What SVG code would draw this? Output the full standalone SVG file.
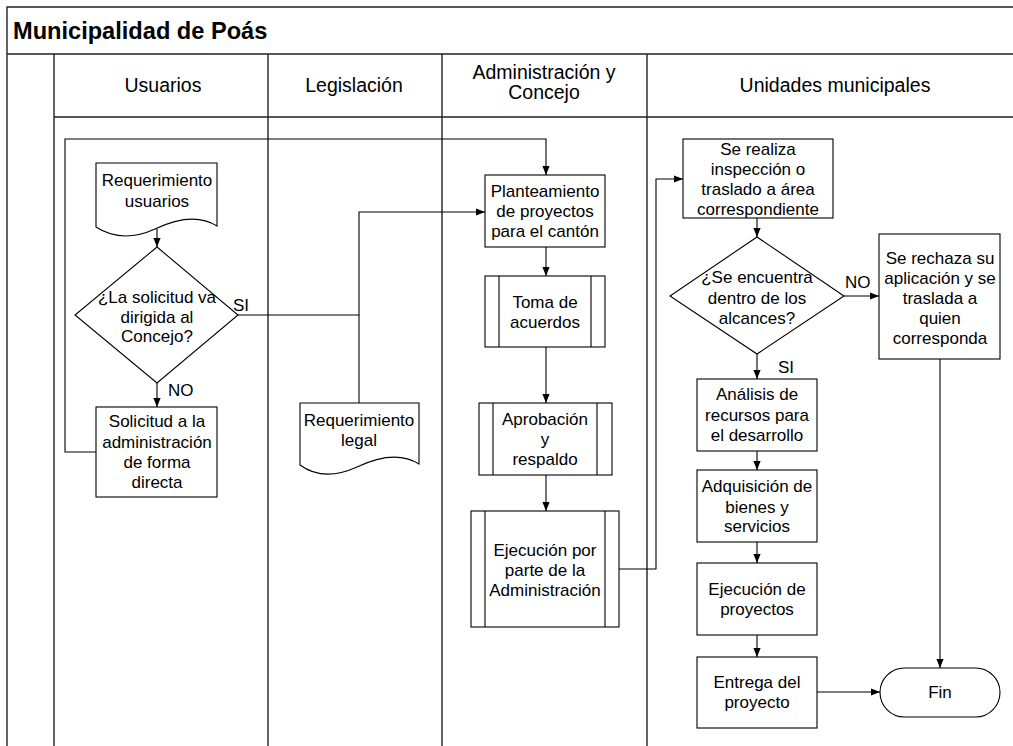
<svg xmlns="http://www.w3.org/2000/svg" width="1013" height="746" viewBox="0 0 1013 746">
<defs>
<style>
.frame{fill:none;stroke:#222;stroke-width:1.4}
.shape{fill:#fff;stroke:#000;stroke-width:1.1}
.inner{fill:none;stroke:#000;stroke-width:1.1}
.conn{fill:none;stroke:#000;stroke-width:1.1}
.t{font-family:"Liberation Sans",Arial,sans-serif;font-size:17px;fill:#000;text-anchor:middle}
.h{font-family:"Liberation Sans",Arial,sans-serif;font-size:19.5px;fill:#000;text-anchor:middle}
.lbl{font-family:"Liberation Sans",Arial,sans-serif;font-size:17px;fill:#000}
.title{font-family:"Liberation Sans",Arial,sans-serif;font-size:23.6px;font-weight:bold;fill:#000}
</style>
<marker id="arr" viewBox="0 0 10 10" refX="10" refY="5" markerWidth="9" markerHeight="9" markerUnits="userSpaceOnUse" orient="auto">
<path d="M0,1 L10,5 L0,9 Z" fill="#000"/>
</marker>
</defs>
<rect width="1013" height="746" fill="#fff"/>
<g id="pool">
<path class="frame" d="M7,746 V7 H1013 M7,54 H1013 M54,54 V746 M54,117 H1013 M268,54 V746 M442,54 V746 M647,54 V746"/>
<text class="title" x="13" y="39">Municipalidad de Poás</text>
<text class="h" x="163" y="92">Usuarios</text>
<text class="h" x="354" y="92">Legislación</text>
<text class="h" x="544" y="79">Administración y</text>
<text class="h" x="544" y="99">Concejo</text>
<text class="h" x="835" y="92">Unidades municipales</text>
</g>
<g id="connectors">
<path class="conn" d="M157,229 V247" marker-end="url(#arr)"/>
<path class="conn" d="M157,383 V407" marker-end="url(#arr)"/>
<path class="conn" d="M238,315 H359 V212 H485" marker-end="url(#arr)"/>
<path class="conn" d="M359,403 V315"/>
<path class="conn" d="M96,452 H65 V139 H546 V175" marker-end="url(#arr)"/>
<path class="conn" d="M546,247 V276" marker-end="url(#arr)"/>
<path class="conn" d="M546,347 V403" marker-end="url(#arr)"/>
<path class="conn" d="M546,475 V511" marker-end="url(#arr)"/>
<path class="conn" d="M619,569 H656 V179 H683" marker-end="url(#arr)"/>
<path class="conn" d="M757,218 V237" marker-end="url(#arr)"/>
<path class="conn" d="M844,296 H879" marker-end="url(#arr)"/>
<path class="conn" d="M757,354 V379" marker-end="url(#arr)"/>
<path class="conn" d="M757,451 V470" marker-end="url(#arr)"/>
<path class="conn" d="M757,542 V563" marker-end="url(#arr)"/>
<path class="conn" d="M757,635 V657" marker-end="url(#arr)"/>
<path class="conn" d="M817,692 H880" marker-end="url(#arr)"/>
<path class="conn" d="M940,359 V668" marker-end="url(#arr)"/>
<text class="lbl" x="233" y="311">SI</text>
<text class="lbl" x="168" y="396">NO</text>
<text class="lbl" x="845" y="288">NO</text>
<text class="lbl" x="778" y="373">SI</text>
</g>
<g id="req-usuarios">
<path class="shape" d="M96,163 H217 V226 C198,214 176,219 155,229 C133,239 113,238 96,227 Z"/>
<text class="t" x="157" y="186">Requerimiento</text>
<text class="t" x="157" y="207">usuarios</text>
</g>
<g id="decision-concejo">
<path class="shape" d="M157,247 L238,315 L157,383 L75,315 Z"/>
<text class="t" x="157" y="303">¿La solicitud va</text>
<text class="t" x="157" y="323">dirigida al</text>
<text class="t" x="157" y="342">Concejo?</text>
</g>
<g id="solicitud-admin">
<rect class="shape" x="96" y="407" width="121" height="90"/>
<text class="t" x="157" y="427">Solicitud a la</text>
<text class="t" x="157" y="448">administración</text>
<text class="t" x="157" y="468">de forma</text>
<text class="t" x="157" y="488">directa</text>
</g>
<g id="req-legal">
<path class="shape" d="M300,403 H419 V464 C400,452 378,457 357,467 C335,477 315,476 300,465 Z"/>
<text class="t" x="359" y="426">Requerimiento</text>
<text class="t" x="359" y="446">legal</text>
</g>
<g id="planteamiento">
<rect class="shape" x="485" y="175" width="120" height="72"/>
<text class="t" x="545" y="197">Planteamiento</text>
<text class="t" x="545" y="217">de proyectos</text>
<text class="t" x="545" y="237">para el cantón</text>
</g>
<g id="toma-acuerdos">
<rect class="shape" x="485" y="276" width="120" height="71"/>
<path class="inner" d="M499,276 V347 M591,276 V347"/>
<text class="t" x="545" y="308">Toma de</text>
<text class="t" x="545" y="328">acuerdos</text>
</g>
<g id="aprobacion">
<rect class="shape" x="479" y="403" width="133" height="72"/>
<path class="inner" d="M493,403 V475 M597,403 V475"/>
<text class="t" x="545" y="425">Aprobación</text>
<text class="t" x="545" y="445">y</text>
<text class="t" x="545" y="465">respaldo</text>
</g>
<g id="ejecucion-admin">
<rect class="shape" x="471" y="511" width="148" height="116"/>
<path class="inner" d="M485,511 V627 M605,511 V627"/>
<text class="t" x="545" y="556">Ejecución por</text>
<text class="t" x="545" y="576">parte de la</text>
<text class="t" x="545" y="596">Administración</text>
</g>
<g id="inspeccion">
<rect class="shape" x="683" y="139" width="150" height="79"/>
<text class="t" x="758" y="155">Se realiza</text>
<text class="t" x="758" y="175">inspección o</text>
<text class="t" x="758" y="195">traslado a área</text>
<text class="t" x="758" y="215">correspondiente</text>
</g>
<g id="decision-alcances">
<path class="shape" d="M757,237 L844,296 L757,354 L670,296 Z"/>
<text class="t" x="757" y="283">¿Se encuentra</text>
<text class="t" x="757" y="304">dentro de los</text>
<text class="t" x="757" y="324">alcances?</text>
</g>
<g id="rechazo">
<rect class="shape" x="879" y="234" width="121" height="125"/>
<text class="t" x="940" y="264">Se rechaza su</text>
<text class="t" x="940" y="284">aplicación y se</text>
<text class="t" x="940" y="304">traslada a</text>
<text class="t" x="940" y="324">quien</text>
<text class="t" x="940" y="344">corresponda</text>
</g>
<g id="analisis">
<rect class="shape" x="697" y="379" width="120" height="72"/>
<text class="t" x="757" y="400">Análisis de</text>
<text class="t" x="757" y="421">recursos para</text>
<text class="t" x="757" y="441">el desarrollo</text>
</g>
<g id="adquisicion">
<rect class="shape" x="697" y="470" width="120" height="72"/>
<text class="t" x="757" y="492">Adquisición de</text>
<text class="t" x="757" y="513">bienes y</text>
<text class="t" x="757" y="532">servicios</text>
</g>
<g id="ejecucion-proyectos">
<rect class="shape" x="697" y="563" width="120" height="72"/>
<text class="t" x="757" y="595">Ejecución de</text>
<text class="t" x="757" y="615">proyectos</text>
</g>
<g id="entrega">
<rect class="shape" x="697" y="657" width="120" height="71"/>
<text class="t" x="757" y="688">Entrega del</text>
<text class="t" x="757" y="708">proyecto</text>
</g>
<g id="fin">
<rect class="shape" x="880" y="668" width="120" height="49" rx="24.5" ry="24.5"/>
<text class="t" x="940" y="698">Fin</text>
</g>
</svg>
